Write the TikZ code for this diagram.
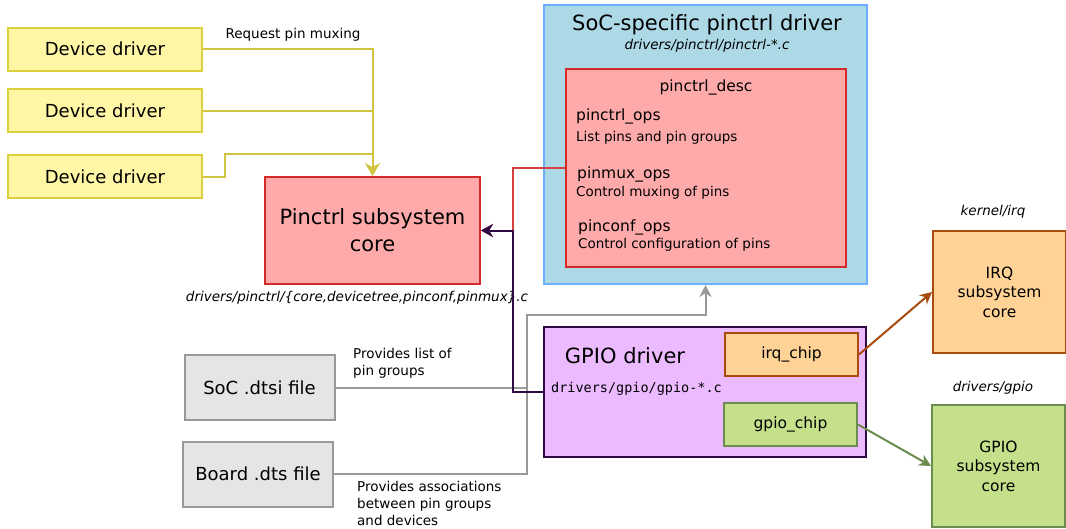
\documentclass[tikz,border=0pt]{standalone}
\usepackage{fontspec}
\setmainfont{DejaVu Sans}
\setmonofont{DejaVu Sans Mono}
\usetikzlibrary{arrows.meta, positioning, calc}
\definecolor{amarillodriver}{HTML}{FFF6A6}
\definecolor{amarilloborde}{HTML}{DCCF40}
\definecolor{rojonucleo}{HTML}{FFAAAA}
\definecolor{rojoborde}{HTML}{D42A2A}
\definecolor{azulsoc}{HTML}{ADD8E6}
\definecolor{azulborde}{HTML}{6AB0FF}
\definecolor{moradogpio}{HTML}{ECBBFF}
\definecolor{moradoborde}{HTML}{2E0A45}
\definecolor{naranjairq}{HTML}{FFD296}
\definecolor{naranjaborde}{HTML}{A84B0C}
\definecolor{verdegpio}{HTML}{C5E08A}
\definecolor{verdeborde}{HTML}{6A8C4E}
\definecolor{grisdts}{HTML}{E5E5E5}
\definecolor{grisborde}{HTML}{999999}
\colorlet{colDriver}{amarillodriver}
\colorlet{colLineaDriver}{amarilloborde!95!black}
\colorlet{colNucleo}{rojonucleo}
\colorlet{colSoC}{azulsoc}
\colorlet{colGpio}{moradogpio}
\colorlet{colIrq}{naranjairq}
\colorlet{colChip}{verdegpio}
\colorlet{colDts}{grisdts}
\tikzset{
  cajaBase/.style={
    draw, line width=2pt, align=center, inner sep=0pt, text=black
  },
  cajaDriver/.style={cajaBase, draw=amarilloborde, fill=colDriver,
    minimum width=194pt, minimum height=43pt, font=\fontsize{18}{22}\selectfont},
  cajaNucleo/.style={cajaBase, draw=rojoborde, fill=colNucleo,
    minimum width=215pt, minimum height=107pt, font=\fontsize{21}{27}\selectfont},
  cajaSoC/.style={cajaBase, draw=azulborde, fill=colSoC,
    minimum width=323pt, minimum height=279pt},
  cajaDesc/.style={cajaBase, draw=rojoborde, fill=colNucleo,
    minimum width=280pt, minimum height=198pt},
  cajaGpio/.style={cajaBase, draw=moradoborde, fill=colGpio,
    minimum width=322pt, minimum height=130pt},
  cajaIrqChip/.style={cajaBase, draw=naranjaborde, fill=colIrq,
    minimum width=133pt, minimum height=43pt, font=\fontsize{15.5}{19.5}\selectfont},
  cajaGpioChip/.style={cajaIrqChip, draw=verdeborde, fill=colChip},
  cajaSubsistema/.style={cajaIrqChip, minimum height=122pt},
  cajaDts/.style={cajaBase, draw=grisborde, fill=colDts,
    minimum width=150pt, minimum height=65pt, font=\fontsize{18}{22}\selectfont},
  titulo/.style={inner sep=0pt, font=\fontsize{21}{27}\selectfont},
  etiqueta/.style={inner sep=0pt, align=left, font=\fontsize{13.5}{17}\selectfont},
  ruta/.style={etiqueta, font=\fontsize{13.5}{17}\selectfont\itshape},
  campo/.style={inner sep=0pt, anchor=west, font=\fontsize{15.5}{19}\selectfont},
  flechaAmarilla/.style={line width=2pt, colLineaDriver},
  flechaRoja/.style={-{Stealth[length=12pt,width=13pt]}, line width=2pt, rojoborde!90!white},
  flechaMorada/.style={-{Stealth[length=12pt,width=13pt]}, line width=2pt, moradoborde},
  flechaGris/.style={line width=2pt, grisborde},
  flechaIrq/.style={-{Stealth[length=12pt,width=12pt]}, line width=2pt, naranjaborde},
  flechaChip/.style={-{Stealth[length=12pt,width=12pt]}, line width=2pt, verdeborde},
}

\begin{document}
\begin{tikzpicture}[x=1pt, y=-1pt]
    \useasboundingbox (0,0) rectangle (1066,528);

    \node[cajaDriver] (dd1) at (105,49) {Device driver};
    \node[cajaDriver] (dd2) at (105,110.5) {Device driver};
    \node[cajaDriver] (dd3) at (105,176.5) {Device driver};
    \node[cajaNucleo] (core) at (372.5,230.5) {Pinctrl subsystem\\core};
    \node[ruta] (coreRuta) at (357,298) {drivers/pinctrl/\{core,devicetree,pinconf,pinmux\}.c};
    \node[etiqueta] (etiqMux) at (293,35) {Request pin muxing};

    \node[cajaSoC] (soc) at (705.5,144.5) {};
    \node[titulo] (socTitulo) at (707,25) {SoC-specific pinctrl driver};
    \node[ruta] (socRuta) at (707,46) {drivers/pinctrl/pinctrl-*.c};
    \node[cajaDesc] (desc) at (706,168) {};
    \node[campo, anchor=center] (descTitulo) at (706,87) {pinctrl\_desc};
    \node[campo] (pinctrlOps) at (576,116) {pinctrl\_ops};
    \node[etiqueta, anchor=west] (pinctrlTxt) at (576,138) {List pins and pin groups};
    \node[campo] (pinmuxOps) at (577,174) {pinmux\_ops};
    \node[etiqueta, anchor=west] (pinmuxTxt) at (576,193) {Control muxing of pins};
    \node[campo] (pinconfOps) at (578,227) {pinconf\_ops};
    \node[etiqueta, anchor=west] (pinconfTxt) at (578,245) {Control configuration of pins};

    \node[cajaGpio] (gpio) at (705,392) {};
    \node[titulo] (gpioTitulo) at (625,356) {GPIO driver};
    \node[etiqueta, anchor=west, font=\fontsize{13.5}{17}\ttfamily] (gpioRuta) at (551,389) {drivers/gpio/gpio-*.c};
    \node[cajaIrqChip] (irqchip) at (791.5,354.5) {irq\_chip};
    \node[cajaGpioChip] (gpiochip) at (790.5,424.5) {gpio\_chip};

    \node[cajaSubsistema] (irqcore) at (999.5,292) {IRQ\\subsystem\\core};
    \node[ruta] (irqRuta) at (993,212) {kernel/irq};
    \node[cajaSubsistema, draw=verdeborde, fill=colChip] (gpiocore) at (998.5,466) {GPIO\\subsystem\\core};
    \node[ruta] (gpioCoreRuta) at (993,388) {drivers/gpio};

    \node[cajaDts] (dtsi) at (259.5,387.5) {SoC .dtsi file};
    \node[cajaDts] (dts) at (258,474) {Board .dts file};
    \node[etiqueta, anchor=west] (dtsiNota) at (353,363) {Provides list of\\pin groups};
    \node[etiqueta, anchor=west] (dtsNota) at (357,503.5) {Provides associations\\between pin groups\\and devices};

    \coordinate (codo) at (225,154);
    \coordinate (union) at (513,230.5);
    \coordinate (cruce) at (527,315);

    \draw[flechaAmarilla] (dd2.east) -- (dd2.east -| core.north);
    \draw[flechaAmarilla] (dd3.east) -| (codo) -- (codo -| core.north);
    \draw[flechaAmarilla, -{Stealth[length=13pt,width=15pt]}] (dd1.east) -| (core.north);
    \draw[flechaGris] (dtsi.east) -- (dtsi.east -| cruce);
    \draw[flechaGris, -{Stealth[length=12pt,width=12pt]}] (dts.east) -| (cruce) -| (soc.south);
    \draw[flechaRoja] (desc.west) -| (union) -- (core.east);
    \draw[flechaMorada] (gpio.west) -| (union) -- (core.east);
    \draw[flechaIrq] (irqchip.east) -- (irqcore.west);
    \draw[flechaChip] (gpiochip.east) -- (gpiocore.west);
  \end{tikzpicture}
\end{document}
